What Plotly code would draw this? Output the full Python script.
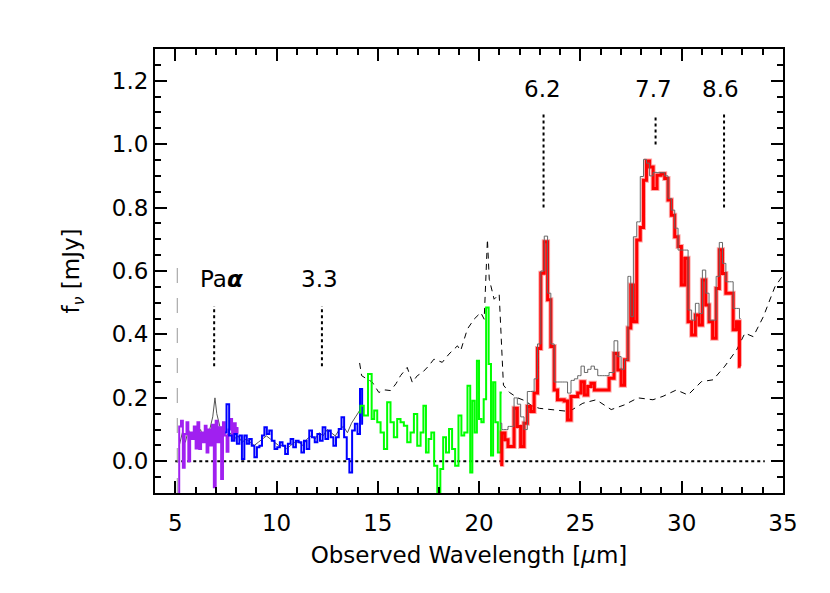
import plotly.graph_objects as go

# purple segment (short wavelength)
purple_x = [5.15, 5.24, 5.33, 5.42, 5.51, 5.60, 5.69, 5.78, 5.87, 5.96, 6.05, 6.14,
            6.23, 6.32, 6.41, 6.50, 6.59, 6.68, 6.77, 6.86, 6.95, 7.04, 7.13, 7.22,
            7.31, 7.40, 7.49, 7.58, 7.67, 7.76, 7.85, 7.94, 8.03, 8.12]
purple_y = [-0.10, 0.11, 0.128, -0.02, 0.086, 0.123, 0.0, 0.091, 0.07, 0.11, 0.04, 0.123,
            0.039, 0.091, 0.06, 0.112, 0.028, 0.10, 0.05, 0.115, -0.082, 0.128, 0.06, 0.107,
            -0.056, 0.123, 0.081, 0.03, 0.10, 0.133, 0.07, 0.12, 0.09, 0.105]

# blue segment
blue_x = [7.46, 7.60, 7.72, 7.86, 7.98, 8.10, 8.23, 8.35, 8.47, 8.59, 8.71, 8.84,
          8.97, 9.09, 9.22, 9.34, 9.46, 9.58, 9.70, 9.83, 9.97, 10.10, 10.23, 10.36,
          10.49, 10.63, 10.76, 10.89, 11.02, 11.16, 11.29, 11.42, 11.55, 11.68, 11.82, 11.95,
          12.08, 12.21, 12.34, 12.48, 12.61, 12.74, 12.87, 13.00, 13.14, 13.27, 13.40, 13.53,
          13.66, 13.80, 13.93, 14.06, 14.18, 14.27]
blue_y = [0.091, 0.18, 0.081, 0.065, 0.086, 0.055, 0.081, 0.007, 0.081, 0.055, 0.07, 0.049,
          0.013, 0.044, 0.049, 0.081, 0.107, 0.086, 0.097, 0.065, 0.039, 0.044, 0.06, 0.049,
          0.023, 0.055, 0.07, 0.044, 0.065, 0.06, 0.028, 0.065, 0.039, 0.097, 0.076, 0.06,
          0.086, 0.065, 0.107, 0.07, 0.097, 0.076, 0.049, 0.076, 0.102, 0.139, 0.076, 0.007,
          -0.035, 0.097, 0.118, 0.086, 0.228, 0.118]

# green segment
green_x = [14.06, 14.22, 14.39, 14.64, 14.75, 14.89, 15.05, 15.22, 15.38, 15.54, 15.71, 15.87,
           16.04, 16.20, 16.37, 16.53, 16.70, 16.86, 17.03, 17.19, 17.31, 17.44, 17.57, 17.71,
           17.85, 18.02, 18.15, 18.30, 18.43, 18.60, 18.73, 18.90, 19.06, 19.19, 19.34, 19.51,
           19.61, 19.72, 19.84, 19.94, 20.05, 20.17, 20.28, 20.41, 20.53, 20.64, 20.74, 20.86,
           20.99, 21.12]
green_y = [0.154, 0.175, 0.144, 0.275, 0.133, 0.16, 0.123, 0.091, 0.039, 0.186, 0.123, 0.076,
           0.133, 0.123, 0.112, 0.06, 0.091, 0.149, 0.049, 0.091, 0.175, 0.028, 0.07, 0.091,
           -0.014, -0.098, -0.024, 0.076, 0.028, 0.102, 0.039, -0.014, 0.144, 0.081, 0.091, 0.238,
           -0.035, 0.191, 0.091, 0.317, 0.133, 0.123, 0.196, 0.485, 0.307, 0.018, 0.249, 0.123,
           0.028, 0.217]

# red segment (long wavelength) and the grey spectrum over it
red_x = [21.04, 21.20, 21.35, 21.50, 21.65, 21.80, 21.97, 22.13, 22.30, 22.46, 22.63, 22.80,
         22.96, 23.13, 23.30, 23.46, 23.62, 23.79, 23.95, 24.12, 24.28, 24.45, 24.62, 24.78,
         24.95, 25.11, 25.28, 25.44, 25.61, 25.77, 25.94, 26.10, 26.27, 26.56, 26.76, 26.93,
         27.09, 27.26, 27.43, 27.54, 27.69, 27.87, 28.04, 28.19, 28.33, 28.50, 28.68, 28.88,
         29.08, 29.24, 29.41, 29.57, 29.74, 29.90, 30.07, 30.23, 30.40, 30.58, 30.77, 30.94,
         31.10, 31.27, 31.43, 31.62, 31.78, 31.93, 32.10, 32.26, 32.46, 32.62, 32.79, 32.91]
red_y = [-0.01, 0.089, 0.068, 0.047, 0.047, 0.167, 0.11, 0.047, 0.12, 0.173, 0.157, 0.215,
         0.356, 0.593, 0.692, 0.509, 0.362, 0.225, 0.194, 0.194, 0.19, 0.13, 0.204, 0.204,
         0.215, 0.251, 0.209, 0.236, 0.246, 0.225, 0.225, 0.225, 0.225, 0.262, 0.34, 0.288,
         0.24, 0.32, 0.42, 0.556, 0.44, 0.698, 0.737, 0.886, 0.947, 0.928, 0.86, 0.902,
         0.907, 0.892, 0.824, 0.776, 0.708, 0.677, 0.556, 0.64, 0.44, 0.398, 0.461, 0.43,
         0.572, 0.493, 0.44, 0.388, 0.545, 0.667, 0.592, 0.53, 0.53, 0.415, 0.44, 0.30]
grey_red_y = [0.12, 0.10, 0.10, 0.11, 0.11, 0.20, 0.18, 0.14, 0.10, 0.22, 0.22, 0.26,
              0.37, 0.60, 0.71, 0.53, 0.37, 0.25, 0.25, 0.25, 0.25, 0.215, 0.255, 0.26,
              0.27, 0.30, 0.28, 0.29, 0.30, 0.29, 0.27, 0.27, 0.27, 0.28, 0.38, 0.33,
              0.29, 0.32, 0.583, 0.456, 0.708, 0.755, 0.898, 0.952, 0.94, 0.90, 0.911, 0.91,
              0.91, 0.90, 0.829, 0.792, 0.735, 0.666, 0.666, 0.666, 0.477, 0.445, 0.498, 0.466,
              0.603, 0.53, 0.445, 0.445, 0.583, 0.69, 0.624, 0.566, 0.566, 0.482, 0.482, 0.45]

# grey spectrum at short wavelengths
grey_x = [5.20, 5.35, 5.50, 5.65, 5.80, 5.95, 6.10, 6.25, 6.40, 6.55, 6.70, 6.85,
          6.96, 7.05, 7.20, 7.35, 7.50, 7.70, 7.90, 8.10, 8.30, 8.50, 8.70, 8.90,
          9.10, 9.30, 9.50, 9.70, 9.90, 10.10, 10.30, 10.50, 10.70, 10.90, 11.10, 11.30,
          11.50, 11.70, 11.90, 12.10, 12.30, 12.50, 12.70, 12.90, 13.10, 13.30, 13.50, 13.70,
          13.90, 14.10]
grey_y = [0.05, 0.09, 0.06, 0.10, 0.07, 0.09, 0.08, 0.10, 0.07, 0.09, 0.10, 0.14,
          0.20, 0.15, 0.11, 0.09, 0.08, 0.09, 0.07, 0.08, 0.06, 0.07, 0.06, 0.05,
          0.06, 0.07, 0.08, 0.07, 0.06, 0.05, 0.05, 0.04, 0.05, 0.06, 0.06, 0.05,
          0.07, 0.08, 0.07, 0.09, 0.08, 0.10, 0.09, 0.08, 0.10, 0.11, 0.09, 0.12,
          0.14, 0.16]

# dashed curve
dash_x = [14.10, 14.20, 14.45, 14.72, 15.05, 15.35, 15.63, 15.90, 16.12, 16.45, 16.70, 16.95,
          17.20, 17.50, 17.77, 18.18, 18.51, 18.93, 19.09, 19.42, 19.75, 20.08, 20.25, 20.41,
          20.50, 20.74, 20.99, 21.20, 21.50, 21.90, 22.30, 22.60, 22.97, 23.63, 24.45, 25.12,
          25.78, 26.52, 27.18, 27.84, 28.58, 29.08, 29.74, 30.31, 30.97, 31.55, 32.13, 32.71,
          33.12, 33.53, 34.03, 34.60, 34.93]
dash_y = [0.31, 0.27, 0.26, 0.25, 0.217, 0.225, 0.223, 0.245, 0.27, 0.296, 0.249, 0.27,
          0.28, 0.30, 0.322, 0.312, 0.338, 0.364, 0.349, 0.417, 0.448, 0.469, 0.448, 0.70,
          0.574, 0.511, 0.527, 0.24, 0.217, 0.20, 0.19, 0.175, 0.167, 0.162, 0.157, 0.183,
          0.194, 0.163, 0.178, 0.20, 0.194, 0.205, 0.225, 0.209, 0.251, 0.257, 0.30, 0.351,
          0.404, 0.393, 0.456, 0.55, 0.58]

# feature labels and markers
feat_labels = ["Pa<i><b>α</b></i>", "3.3", "6.2", "7.7", "8.6"]
feat_label_x = [7.3, 12.13, 23.12, 28.61, 31.92]
feat_label_y = [0.575, 0.575, 1.173, 1.173, 1.173]
feat_x = [6.92, 12.24, 23.18, 28.71, 32.09]
feat_top = [0.49, 0.49, 1.094, 1.086, 1.094]
feat_bot = [0.30, 0.30, 0.80, 0.999, 0.80]

zero_x = [5.0, 34.1]
cut_x = 5.1
cut_y = [-0.1, 0.64]

FONT = "DejaVu Sans"
fig = go.Figure()

# dotted zero line
fig.add_trace(go.Scatter(x=zero_x, y=[0, 0], mode="lines",
                         line=dict(color="black", width=2, dash="dot"), hoverinfo="skip"))
# vertical dashed cut
fig.add_trace(go.Scatter(x=[cut_x, cut_x], y=cut_y, mode="lines",
                         line=dict(color="#999999", width=1, dash="longdash"), hoverinfo="skip"))

# feature markers
for fx, t, b in zip(feat_x, feat_top, feat_bot):
    fig.add_trace(go.Scatter(x=[fx, fx], y=[b, t], mode="lines",
                             line=dict(color="black", width=2, dash="dot"), hoverinfo="skip"))

# dashed curve
fig.add_trace(go.Scatter(x=dash_x, y=dash_y, mode="lines",
                         line=dict(color="black", width=1, dash="6px,5px")))

# spectra
fig.add_trace(go.Scatter(x=grey_x, y=grey_y, mode="lines",
                         line=dict(color="#555555", width=1)))
fig.add_trace(go.Scatter(x=purple_x, y=purple_y, mode="lines", line_shape="hvh",
                         line=dict(color="#A020F0", width=2)))
fig.add_trace(go.Scatter(x=blue_x, y=blue_y, mode="lines", line_shape="hvh",
                         line=dict(color="#0000FF", width=2)))
fig.add_trace(go.Scatter(x=green_x, y=green_y, mode="lines", line_shape="hvh",
                         line=dict(color="#00FF00", width=2)))
fig.add_trace(go.Scatter(x=red_x, y=red_y, mode="lines", line_shape="hvh",
                         line=dict(color="rgba(255,0,0,0.35)", width=5)))
fig.add_trace(go.Scatter(x=red_x, y=red_y, mode="lines", line_shape="hvh",
                         line=dict(color="#FF0000", width=3)))
fig.add_trace(go.Scatter(x=red_x, y=grey_red_y, mode="lines", line_shape="hvh",
                         line=dict(color="#666666", width=1)))

for txt, lx, ly in zip(feat_labels, feat_label_x, feat_label_y):
    fig.add_annotation(x=lx, y=ly, text=txt, showarrow=False,
                       font=dict(family=FONT, size=23, color="black"))

axis_common = dict(showline=True, linecolor="black", linewidth=2, mirror="ticks",
                   ticks="inside", ticklen=12, tickwidth=2, tickcolor="black",
                   showgrid=False, zeroline=False,
                   tickfont=dict(family=FONT, size=23, color="black"))

fig.update_xaxes(range=[4, 35], tick0=0, dtick=5, ticklabelstandoff=8,
                 minor=dict(dtick=1, ticks="inside", ticklen=6, tickwidth=1.5, tickcolor="black"),
                 title=dict(text="Observed Wavelength [<i>μ</i>m]", standoff=12,
                            font=dict(family=FONT, size=23, color="black")),
                 **axis_common)
fig.update_yaxes(range=[-0.1, 1.3], tick0=0, dtick=0.2, tickformat=".1f",
                 minor=dict(dtick=0.05, ticks="inside", ticklen=6, tickwidth=1.5, tickcolor="black"),
                 title=dict(text="f<sub><i>ν</i></sub> [mJy]", standoff=26,
                            font=dict(family=FONT, size=23, color="black")),
                 **axis_common)

# page body adds an 8px offset, so the figure is slightly smaller than the window
fig.update_layout(width=822, height=585, showlegend=False,
                  plot_bgcolor="white", paper_bgcolor="white",
                  margin=dict(l=147, r=47, t=41, b=100),
                  font=dict(family=FONT, color="black"))

fig.write_html("out.html")
